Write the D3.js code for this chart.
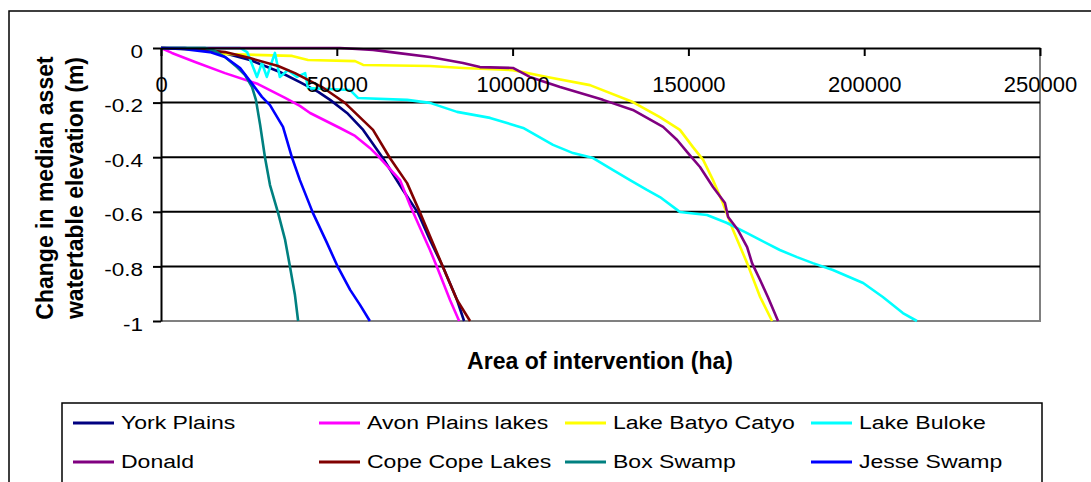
<!DOCTYPE html>
<html>
<head>
<meta charset="utf-8">
<script src="https://cdn.jsdelivr.net/npm/d3@7"></script>
<style>
  body { margin: 0; background: #fff; }
  svg { display: block; font-family: "Liberation Sans", Arial, sans-serif; }
</style>
</head>
<body>
<svg id="chart" width="1091" height="482"></svg>
<script>
// series names (legend order) and colours
const seriesNames = ['York Plains', 'Avon Plains lakes', 'Lake Batyo Catyo', 'Lake Buloke',
  'Donald', 'Cope Cope Lakes', 'Box Swamp', 'Jesse Swamp'];
const seriesColors = ['#000080', '#ff00ff', '#ffff00', '#00ffff',
  '#800080', '#800000', '#008080', '#0000ff'];

// [area (ha), change in median watertable elevation (m)]
const yorkPlains = [[0, 0], [6800, 0], [16800, -0.015], [25300, -0.044], [33800, -0.088],
  [39500, -0.125], [44700, -0.161], [48100, -0.19], [52900, -0.238], [57500, -0.3],
  [63100, -0.403], [68800, -0.52], [73100, -0.604], [76500, -0.703], [80200, -0.802],
  [84200, -0.923], [86200, -1]];
const avonPlains = [[0, 0], [3100, -0.018], [9700, -0.051], [18200, -0.092], [27600, -0.132],
  [35300, -0.183], [39500, -0.212], [42400, -0.238], [50900, -0.293], [55200, -0.322],
  [59400, -0.366], [62300, -0.403], [68000, -0.484], [70800, -0.575], [73700, -0.659],
  [76500, -0.74], [78500, -0.802], [82200, -0.923], [84800, -1]];
const batyoCatyo = [[0, 0], [11100, -0.007], [18200, -0.022], [37300, -0.029], [41800, -0.044],
  [55200, -0.048], [57500, -0.062], [76500, -0.066], [85900, -0.073], [100100, -0.081],
  [109800, -0.106], [122000, -0.136], [134200, -0.198], [141900, -0.253], [147600, -0.3],
  [151300, -0.363], [154200, -0.41], [157000, -0.484], [159800, -0.568], [162700, -0.667],
  [166700, -0.788], [170400, -0.912], [173800, -1]];
const lakeBuloke = [[0, 0], [22500, 0], [24500, -0.015], [27300, -0.106], [28700, -0.055],
  [30100, -0.106], [32400, -0.018], [33800, -0.106], [36100, -0.081], [38700, -0.106],
  [41000, -0.092], [41800, -0.147], [53800, -0.154], [56000, -0.183], [70000, -0.19],
  [76500, -0.201], [84200, -0.234], [93600, -0.256], [103000, -0.293], [111500, -0.355],
  [117200, -0.385], [122900, -0.403], [128600, -0.447], [133400, -0.484], [138200, -0.52],
  [141900, -0.546], [146800, -0.593], [147600, -0.601], [155300, -0.612], [161000, -0.641],
  [166700, -0.678], [170400, -0.703], [176000, -0.74], [180900, -0.766], [185400, -0.788],
  [191100, -0.813], [199700, -0.861], [205300, -0.912], [211000, -0.971], [215000, -1]];
const donald = [[0, 0], [50900, 0], [60300, -0.007], [67100, -0.018], [76500, -0.033],
  [85900, -0.055], [90700, -0.07], [100100, -0.073], [104900, -0.106], [113500, -0.143],
  [125700, -0.19], [134200, -0.227], [142800, -0.289], [146800, -0.337], [149900, -0.385],
  [153300, -0.436], [157000, -0.509], [160400, -0.568], [161300, -0.619], [164100, -0.667],
  [166700, -0.729], [168100, -0.788], [170400, -0.85], [172600, -0.912], [175500, -1]];
const copeCope = [[0, 0], [9700, -0.004], [18200, -0.015], [25300, -0.037], [33300, -0.066],
  [38100, -0.092], [41800, -0.117], [45800, -0.143], [49500, -0.176], [52300, -0.201],
  [60300, -0.3], [65100, -0.403], [70000, -0.495], [73700, -0.604], [80200, -0.802],
  [84200, -0.923], [87900, -1]];
const boxSwamp = [[0, 0], [12500, 0], [15400, -0.011], [18200, -0.033], [21600, -0.07],
  [23900, -0.099], [25900, -0.143], [27000, -0.19], [28200, -0.282], [29600, -0.403],
  [31000, -0.502], [33300, -0.604], [35300, -0.703], [36700, -0.802], [38100, -0.905],
  [39000, -1]];
const jesseSwamp = [[0, 0], [6800, -0.004], [13900, -0.015], [18200, -0.033], [22500, -0.073],
  [26200, -0.136], [28700, -0.179], [31000, -0.209], [34700, -0.289], [37300, -0.403],
  [39500, -0.484], [43200, -0.604], [47200, -0.714], [50300, -0.802], [53800, -0.886],
  [56600, -0.941], [59400, -1]];

const seriesValues = [yorkPlains, avonPlains, batyoCatyo, lakeBuloke,
  donald, copeCope, boxSwamp, jesseSwamp];

const xTicks = [0, 50000, 100000, 150000, 200000, 250000];
const yTicks = [0, -0.2, -0.4, -0.6, -0.8, -1];

const svg = d3.select('#chart');

// outer chart frame
svg.append('rect')
  .attr('x', 9).attr('y', 11)
  .attr('width', 1200).attr('height', 600)
  .attr('fill', '#fff')
  .attr('stroke', '#000').attr('stroke-width', 1.5);

const plot = { left: 161, right: 1040, top: 48, bottom: 321 };

const x = d3.scaleLinear().domain([0, 250000]).range([plot.left, plot.right]);
const y = d3.scaleLinear().domain([-1, 0]).range([plot.bottom, plot.top]);

// plot area border (grey, right and bottom)
svg.append('path')
  .attr('d', `M${plot.left},${plot.bottom} H${plot.right} V${plot.top}`)
  .attr('fill', 'none')
  .attr('stroke', '#808080').attr('stroke-width', 2);

// horizontal gridlines
svg.append('g')
  .selectAll('line')
  .data(yTicks.filter(d => d !== 0 && d !== -1))
  .join('line')
  .attr('x1', plot.left).attr('x2', plot.right)
  .attr('y1', d => y(d)).attr('y2', d => y(d))
  .attr('stroke', '#000').attr('stroke-width', 2);

// series lines
const line = d3.line()
  .x(d => x(d[0]))
  .y(d => y(d[1]));

svg.append('g')
  .selectAll('path')
  .data(seriesValues)
  .join('path')
  .attr('d', line)
  .attr('fill', 'none')
  .attr('stroke', (d, i) => seriesColors[i])
  .attr('stroke-width', 2.6)
  .attr('stroke-linejoin', 'round');

// y axis
const yAxis = svg.append('g')
  .attr('transform', `translate(${plot.left},0)`)
  .call(d3.axisLeft(y).tickValues(yTicks).tickSize(8).tickSizeOuter(0)
    .tickFormat(d => d === 0 ? '0' : d === -1 ? '-1' : d.toFixed(1)));
yAxis.select('.domain').attr('stroke', '#000').attr('stroke-width', 2);
yAxis.selectAll('.tick line').attr('stroke', '#000').attr('stroke-width', 2);
const ySx = 1.25;
yAxis.selectAll('.tick text')
  .attr('font-size', 18)
  .attr('fill', '#000')
  .attr('font-family', '"Liberation Sans", Arial, sans-serif')
  .attr('transform', `scale(${ySx},1)`)
  .attr('x', -18 / ySx)
  .attr('dy', '0.5em');

// x axis along y = 0 with labels underneath
const xAxis = svg.append('g')
  .attr('transform', `translate(0,${plot.top})`)
  .call(d3.axisBottom(x).tickValues(xTicks).tickSize(8).tickSizeOuter(0)
    .tickFormat(d3.format('d')));
xAxis.select('.domain').attr('stroke', '#000').attr('stroke-width', 2);
xAxis.selectAll('.tick line').attr('stroke', '#000').attr('stroke-width', 2);
xAxis.selectAll('.tick text')
  .attr('font-size', 22)
  .attr('fill', '#000')
  .attr('font-family', '"Liberation Sans", Arial, sans-serif')
  .attr('y', 44)
  .attr('dy', null);

// axis titles
svg.append('text')
  .attr('x', 600).attr('y', 369)
  .attr('text-anchor', 'middle')
  .attr('font-weight', 'bold')
  .attr('font-size', 23)
  .text('Area of intervention (ha)');

const yTitle = svg.append('text')
  .attr('transform', 'translate(0,188) rotate(-90)')
  .attr('text-anchor', 'middle')
  .attr('font-weight', 'bold')
  .attr('font-size', 23);
yTitle.append('tspan').attr('x', 0).attr('y', 53).text('Change in median asset');
yTitle.append('tspan').attr('x', 0).attr('y', 83).text('watertable elevation (m)');

// legend
const legend = { left: 62, top: 403, width: 980, height: 80, colStart: 73, colStep: 246,
  rowY: [423, 462], swatch: 41, textGap: 48 };

svg.append('rect')
  .attr('x', legend.left).attr('y', legend.top)
  .attr('width', legend.width).attr('height', legend.height)
  .attr('fill', '#fff')
  .attr('stroke', '#000').attr('stroke-width', 1.5);

const items = svg.append('g')
  .selectAll('g')
  .data(seriesNames)
  .join('g')
  .attr('transform', (d, i) =>
    `translate(${legend.colStart + (i % 4) * legend.colStep},${legend.rowY[Math.floor(i / 4)]})`);

items.append('line')
  .attr('x1', 0).attr('x2', legend.swatch)
  .attr('y1', 0).attr('y2', 0)
  .attr('stroke', (d, i) => seriesColors[i])
  .attr('stroke-width', 3);

const legSx = 1.28;
items.append('text')
  .attr('transform', `scale(${legSx},1)`)
  .attr('x', legend.textGap / legSx)
  .attr('dy', '0.36em')
  .attr('font-size', 18)
  .text(d => d);
</script>
</body>
</html>
